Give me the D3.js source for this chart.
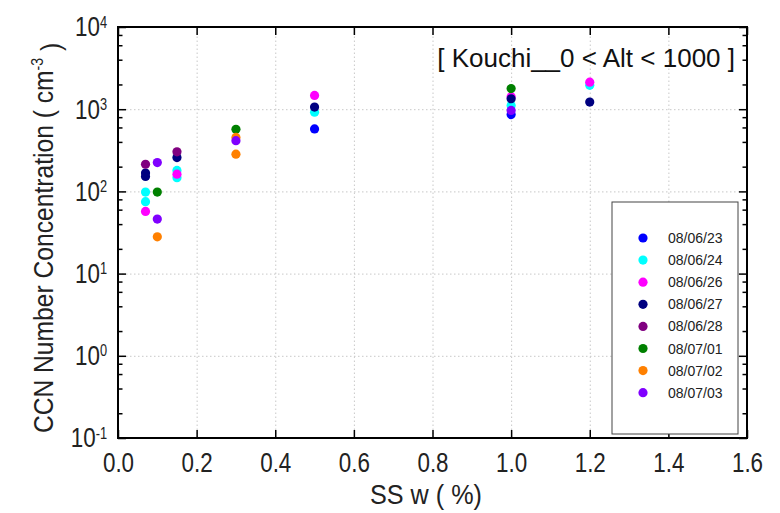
<!DOCTYPE html>
<html>
<head>
<meta charset="utf-8">
<script src="https://cdn.jsdelivr.net/npm/d3@7"></script>
<style>
  body { margin: 0; background: #fff; }
  svg { display: block; }
  text { font-family: "Liberation Sans", Arial, sans-serif; }
  .grid line { stroke: #c8c8c8; stroke-dasharray: 1.5,2.5; }
  .grid path { display: none; }
</style>
</head>
<body>
<svg width="780" height="513"></svg>
<script>
// dates shown in the legend
const dates = ["08/06/23", "08/06/24", "08/06/26", "08/06/27", "08/06/28", "08/07/01", "08/07/02", "08/07/03"];

// [SS w (%), CCN (cm-3)] per day
const d080623 = [[0.5, 575], [1.0, 860]];
const d080624 = [[0.07, 98], [0.07, 75], [0.15, 180], [0.15, 147], [0.5, 920], [1.0, 1110], [1.2, 1950]];
const d080626 = [[0.07, 57], [0.15, 162], [0.5, 1470], [1.0, 1420], [1.2, 2130]];
const d080627 = [[0.07, 167], [0.07, 152], [0.15, 258], [0.5, 1062], [1.0, 1340], [1.2, 1220]];
const d080628 = [[0.07, 214], [0.15, 303]];
const d080701 = [[0.1, 98], [0.3, 570], [1.0, 1780]];
const d080702 = [[0.1, 28], [0.3, 454], [0.3, 284]];
const d080703 = [[0.1, 224], [0.1, 46], [0.3, 414], [1.0, 965]];

const xTicks = [0, 0.2, 0.4, 0.6, 0.8, 1.0, 1.2, 1.4, 1.6];
const yExps = [-1, 0, 1, 2, 3, 4];

const colors = ["#0000ff", "#00ffff", "#ff00ff", "#000080", "#800080", "#008000", "#ff8000", "#8000ff"];
const seriesData = [d080623, d080624, d080626, d080627, d080628, d080701, d080702, d080703];

const svg = d3.select("svg");
const margin = { top: 27, right: 33, bottom: 75, left: 118 };
const width = 780 - margin.left - margin.right;
const height = 513 - margin.top - margin.bottom;
const narrow = 0.8; // axis text in the original is condensed

const chart = svg.append("g")
    .attr("transform", `translate(${margin.left}, ${margin.top})`);

const x = d3.scaleLinear().domain([0, 1.6]).range([0, width]);
const y = d3.scaleLog().domain([0.1, 10000]).range([height, 0]);

const yMajor = yExps.map(e => Math.pow(10, e));
const yMinor = [];
yExps.slice(0, -1).forEach(e => [2, 4, 6, 8].forEach(m => yMinor.push(m * Math.pow(10, e))));

// grid
chart.append("g").attr("class", "grid")
    .attr("transform", `translate(0, ${height})`)
    .call(d3.axisBottom(x).tickValues(xTicks.slice(1, -1)).tickSize(-height).tickFormat(""));
chart.append("g").attr("class", "grid")
    .call(d3.axisLeft(y).tickValues(yMajor.slice(1, -1)).tickSize(-width).tickFormat(""));

// frame
chart.append("rect")
    .attr("width", width).attr("height", height)
    .attr("fill", "none").attr("stroke", "#000").attr("stroke-width", 2);

// ticks on four sides, pointing in
function tickStyle(g) {
    g.select(".domain").remove();
    g.selectAll("line").attr("stroke", "#000").attr("stroke-width", 1.5);
}
const xb = chart.append("g").attr("transform", `translate(0, ${height})`)
    .call(d3.axisBottom(x).tickValues(xTicks).tickSizeInner(-8).tickSizeOuter(0).tickFormat(d3.format(".1f")))
    .call(tickStyle);
xb.selectAll("text")
    .attr("font-family", null)
    .attr("font-size", 28).attr("fill", "#222").attr("y", 14)
    .attr("transform", `scale(${narrow}, 1)`);

chart.append("g")
    .call(d3.axisTop(x).tickValues(xTicks).tickSizeInner(-8).tickSizeOuter(0).tickFormat(""))
    .call(tickStyle);

const yl = chart.append("g")
    .call(d3.axisLeft(y).tickValues(yMajor).tickSizeInner(-8).tickSizeOuter(0))
    .call(tickStyle);
yl.attr("font-family", null);
yl.selectAll(".tick text").text(null)
    .attr("font-size", 28).attr("fill", "#222").attr("x", -11 / narrow)
    .attr("transform", `scale(${narrow}, 1)`)
    .each(function(d) {
        const t = d3.select(this);
        t.append("tspan").text("10");
        t.append("tspan").attr("dy", "-0.55em").attr("font-size", 16).text(Math.round(Math.log10(d)));
    });
chart.append("g")
    .call(d3.axisLeft(y).tickValues(yMinor).tickSizeInner(-4.5).tickSizeOuter(0).tickFormat(""))
    .call(tickStyle);
chart.append("g").attr("transform", `translate(${width}, 0)`)
    .call(d3.axisRight(y).tickValues(yMajor).tickSizeInner(-8).tickSizeOuter(0).tickFormat(""))
    .call(tickStyle);
chart.append("g").attr("transform", `translate(${width}, 0)`)
    .call(d3.axisRight(y).tickValues(yMinor).tickSizeInner(-4.5).tickSizeOuter(0).tickFormat(""))
    .call(tickStyle);

// points
seriesData.forEach((pts, i) => {
    chart.append("g").selectAll("circle")
        .data(pts)
        .enter().append("circle")
        .attr("cx", d => x(d[0]))
        .attr("cy", d => y(d[1]))
        .attr("r", 4.6)
        .attr("fill", colors[i]);
});

// annotation
chart.append("text")
    .attr("x", width - 12).attr("y", 40)
    .attr("text-anchor", "end")
    .attr("font-size", 26).attr("fill", "#111")
    .text("[ Kouchi__0 < Alt < 1000 ]");

// legend
const legend = chart.append("g").attr("transform", `translate(${612 - margin.left}, ${202 - margin.top})`);
legend.append("rect")
    .attr("width", 126).attr("height", 232)
    .attr("fill", "#fff").attr("stroke", "#444").attr("stroke-width", 1);
dates.forEach((name, i) => {
    const row = legend.append("g").attr("transform", `translate(0, ${36 + i * 22.1})`);
    row.append("circle").attr("cx", 31).attr("cy", 0).attr("r", 4.6).attr("fill", colors[i]);
    row.append("text").attr("x", 56).attr("y", 0).attr("dy", "0.36em")
        .attr("font-size", 14).attr("fill", "#222")
        .text(name);
});

// axis titles
svg.append("text")
    .attr("transform", `translate(426, 504) scale(0.9, 1)`)
    .attr("text-anchor", "middle")
    .attr("font-size", 28).attr("fill", "#222")
    .text("SS w ( %)");

const yt = svg.append("text")
    .attr("transform", `translate(53, 238) rotate(-90) scale(${0.88}, 1)`)
    .attr("text-anchor", "middle")
    .attr("font-size", 28).attr("fill", "#222");
yt.append("tspan").text("CCN Number Concentration ( cm");
yt.append("tspan").attr("dy", "-0.6em").attr("font-size", 16).text("-3");
yt.append("tspan").attr("dy", "0.6em").text(" )");
</script>
</body>
</html>
